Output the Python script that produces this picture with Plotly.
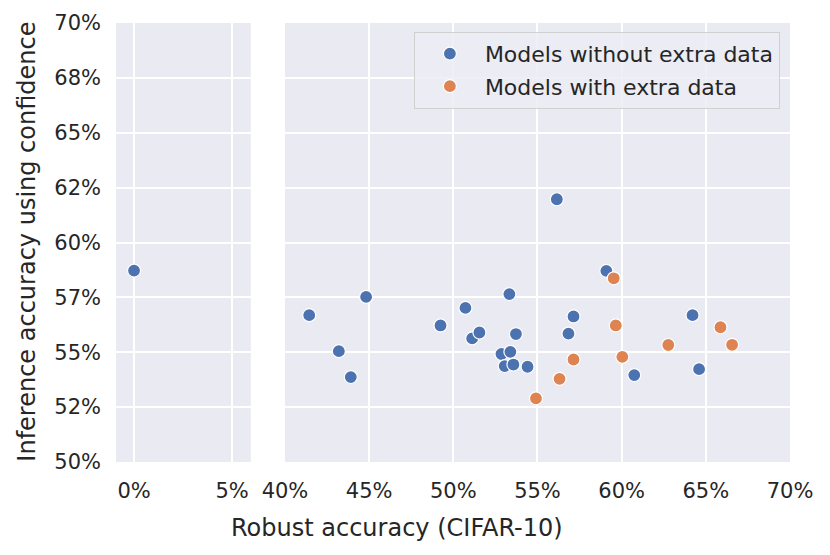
import plotly.graph_objects as go

# ---- data (percent) ----
no_extra_x = [0.0, 41.44, 43.2, 43.91, 44.82, 49.24, 50.72, 51.12, 51.55, 52.86, 53.05,
              53.33, 53.39, 53.57, 53.72, 54.41, 56.15, 56.84, 57.14, 59.09, 60.75, 64.21, 64.6]
no_extra_y = [58.72, 56.69, 55.05, 53.87, 57.52, 56.22, 57.02, 55.63, 55.9, 54.92, 54.37,
              57.65, 55.02, 54.44, 55.83, 54.34, 61.97, 55.85, 56.63, 58.71, 53.96, 56.69, 54.23]
extra_x = [54.91, 56.31, 57.14, 59.53, 59.65, 60.04, 62.77, 65.87, 66.56]
extra_y = [52.9, 53.79, 54.67, 58.37, 56.22, 54.79, 55.33, 56.14, 55.34]

y_tickvals = [50, 52.5, 55, 57.5, 60, 62.5, 65, 67.5, 70]
y_ticktext = ["50%", "52%", "55%", "57%", "60%", "62%", "65%", "68%", "70%"]
left_ticks = [0, 5]
left_ticktext = ["0%", "5%"]
right_ticks = [40, 45, 50, 55, 60, 65, 70]
right_ticktext = ["40%", "45%", "50%", "55%", "60%", "65%", "70%"]

series = [
    ("Models without extra data", no_extra_x, no_extra_y, "#4C72B0"),
    ("Models with extra data", extra_x, extra_y, "#DD8452"),
]

BREAK = 20
TXT = "#262626"
FONT = "DejaVu Sans"

fig = go.Figure()
for name, xs, ys, col in series:
    for axis, cond in (("x", lambda v: v < BREAK), ("x2", lambda v: v >= BREAK)):
        px = [x for x in xs if cond(x)]
        py = [y for x, y in zip(xs, ys) if cond(x)]
        fig.add_trace(go.Scatter(
            x=px, y=py, mode="markers", name=name, legendgroup=name,
            showlegend=(axis == "x2"), xaxis=axis, yaxis="y",
            marker=dict(color=col, size=13, line=dict(color="white", width=1.2)),
        ))

axis_common = dict(showgrid=True, gridcolor="white", gridwidth=2, zeroline=False,
                   showline=False, ticks="", automargin=False,
                   tickfont=dict(size=21, color=TXT, family=FONT))

fig.update_layout(
    width=830, height=555,
    margin=dict(l=108, r=48, t=15, b=101),
    paper_bgcolor="white", plot_bgcolor="#EAEAF2",
    font=dict(family=FONT, color=TXT),
    xaxis=dict(domain=[0, 0.2], range=[-0.92, 5.95], tickvals=left_ticks,
               ticktext=left_ticktext, anchor="y", ticklabelstandoff=14, **axis_common),
    xaxis2=dict(domain=[0.2507, 1], range=[40, 70], tickvals=right_ticks,
                ticktext=right_ticktext, anchor="y", ticklabelstandoff=14, **axis_common),
    yaxis=dict(range=[50, 70], tickvals=y_tickvals, ticktext=y_ticktext,
               anchor="x", ticklabelstandoff=14, **axis_common),
    legend=dict(x=0.985, y=0.98, xanchor="right", yanchor="top",
                bgcolor="rgba(236,236,244,0.85)", bordercolor="#D0D0D0", borderwidth=1,
                font=dict(size=22, color=TXT, family=FONT), tracegroupgap=1,
                itemwidth=60),
    showlegend=True,
    annotations=[
        dict(text="Robust accuracy (CIFAR-10)", xref="paper", yref="paper",
             x=0.417, y=-0.151, xanchor="center", yanchor="middle", showarrow=False,
             font=dict(size=24, color=TXT, family=FONT)),
        dict(text="Inference accuracy using confidence", xref="paper", yref="paper",
             x=-0.132, y=0.502, xanchor="center", yanchor="middle", showarrow=False,
             textangle=-90, font=dict(size=24, color=TXT, family=FONT)),
    ],
)

fig.write_html("out.html")
